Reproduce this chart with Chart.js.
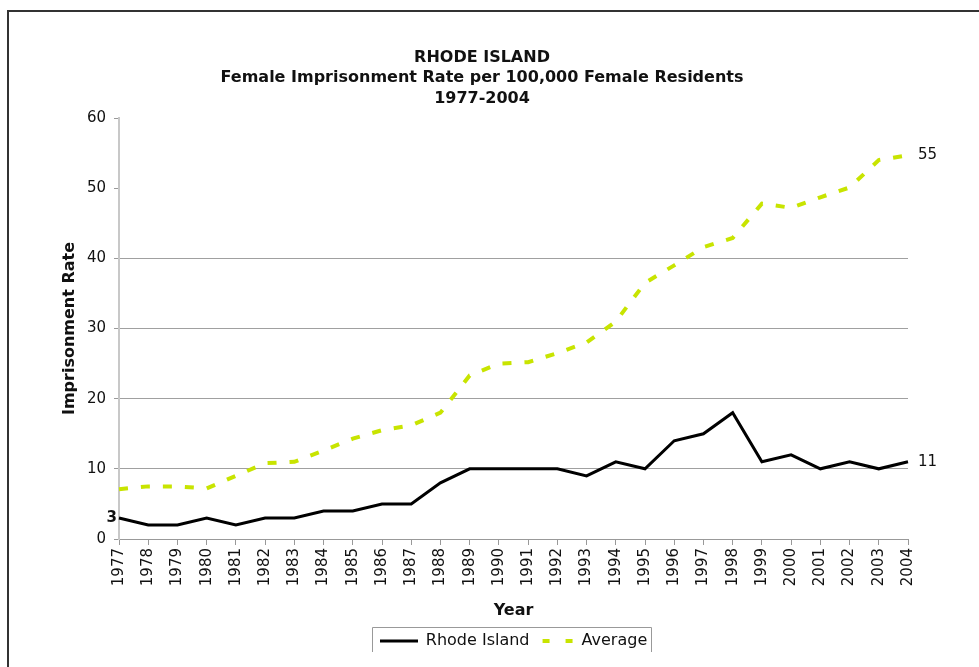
<!DOCTYPE html>
<html>
<head>
<meta charset="utf-8">
<script src="https://cdn.jsdelivr.net/npm/chart.js@4.4.1/dist/chart.umd.min.js"></script>
<style>
  html, body { margin: 0; padding: 0; background: #fff; overflow: hidden; }
  #frame { position: absolute; left: 7px; top: 10px; width: 1100px; height: 800px; border: 2px solid #333; }
  #wrap { position: absolute; left: 0; top: 0; width: 979px; height: 667px; }
</style>
</head>
<body>
<div id="frame"></div>
<div id="wrap"><canvas id="chart"></canvas></div>
<script>
// values
const years = ['1977','1978','1979','1980','1981','1982','1983','1984','1985','1986','1987','1988','1989','1990',
  '1991','1992','1993','1994','1995','1996','1997','1998','1999','2000','2001','2002','2003','2004'];
const rhodeIsland = [3,2,2,3,2,3,3,4,4,5,5,8,10,10,10,10,9,11,10,14,15,18,11,12,10,11,10,11];
const average = [7.1,7.5,7.5,7.2,9.0,10.8,11.0,12.6,14.3,15.5,16.2,18.0,23.3,25.0,25.2,26.5,28.0,31.0,
  36.5,39.0,41.6,42.9,47.8,47.2,48.7,50.1,54.0,54.7];
const yTicks = [0,10,20,30,40,50,60];
const titleLines = ['RHODE ISLAND', 'Female Imprisonment Rate per 100,000 Female Residents', '1977-2004'];

const GREEN = '#c8e400';
const SAMPLE_W = 38;
Chart.defaults.font.family = '"DejaVu Sans", Verdana, sans-serif';
Chart.defaults.color = '#111';

// little legend samples: the built-in 'line' point style ignores dashes
function sample(color, width, dash) {
  const c = document.createElement('canvas');
  c.width = SAMPLE_W; c.height = 6;
  const g = c.getContext('2d');
  g.strokeStyle = color;
  g.lineWidth = width;
  g.setLineDash(dash);
  g.beginPath(); g.moveTo(0, 3); g.lineTo(SAMPLE_W, 3); g.stroke();
  return c;
}
const riSample = sample('#000', 3, []);
const avSample = sample(GREEN, 4, [0, 7, 7, 16, 7, 100]);

// end-point value labels like the original ("3", "11", "55")
const endLabels = {
  id: 'endLabels',
  afterDatasetsDraw(chart) {
    const ctx = chart.ctx;
    const ri = chart.getDatasetMeta(0).data;
    const av = chart.getDatasetMeta(1).data;
    ctx.save();
    ctx.textBaseline = 'middle';
    ctx.fillStyle = '#111';
    ctx.font = 'bold 15px "DejaVu Sans"';
    ctx.textAlign = 'right';
    ctx.fillText(String(rhodeIsland[0]), ri[0].x - 2, ri[0].y);
    ctx.font = '15px "DejaVu Sans"';
    ctx.textAlign = 'left';
    const last = years.length - 1;
    ctx.fillText(String(rhodeIsland[last]), ri[last].x + 10, ri[last].y);
    ctx.fillText(String(Math.round(average[last])), av[last].x + 10, av[last].y);
    ctx.restore();
  }
};

// open box round the legend (top and sides only, as in the picture)
const legendFrame = {
  id: 'legendFrame',
  afterDraw(chart) {
    const boxes = chart.legend.legendHitBoxes;
    if (!boxes || !boxes.length) return;
    const lastBox = boxes[boxes.length - 1];
    const l = Math.round(boxes[0].left - 8), r = Math.round(lastBox.left + lastBox.width + 4);
    const t = Math.round(boxes[0].top - 6), b = Math.round(boxes[0].top + boxes[0].height + 3);
    const ctx = chart.ctx;
    ctx.save();
    ctx.strokeStyle = '#999';
    ctx.lineWidth = 1;
    ctx.beginPath();
    ctx.moveTo(l + 0.5, b); ctx.lineTo(l + 0.5, t + 0.5); ctx.lineTo(r + 0.5, t + 0.5); ctx.lineTo(r + 0.5, b);
    ctx.stroke();
    ctx.restore();
  }
};

new Chart(document.getElementById('chart'), {
  type: 'line',
  data: {
    labels: years,
    datasets: [
      {
        label: 'Rhode Island',
        data: rhodeIsland,
        borderColor: '#000',
        backgroundColor: '#000',
        borderWidth: 3,
        pointRadius: 0,
        pointStyle: riSample,
        tension: 0
      },
      {
        label: 'Average',
        data: average,
        borderColor: GREEN,
        backgroundColor: GREEN,
        borderWidth: 4,
        borderDash: [9, 13],
        pointRadius: 0,
        pointStyle: avSample,
        tension: 0
      }
    ]
  },
  options: {
    responsive: true,
    maintainAspectRatio: false,
    animation: false,
    layout: { padding: { left: 56, right: 71, top: 0, bottom: 8 } },
    plugins: {
      title: {
        display: true,
        text: titleLines,
        color: '#111',
        font: { size: 16, weight: 'bold', lineHeight: 1.3 },
        padding: { top: 47, bottom: 8.6 }
      },
      legend: {
        position: 'bottom',
        fullSize: false,
        labels: {
          color: '#111',
          font: { size: 16 },
          usePointStyle: true,
          pointStyleWidth: SAMPLE_W,
          padding: 6
        }
      },
      tooltip: { enabled: false }
    },
    scales: {
      x: {
        offset: false,
        border: { color: '#999', width: 1 },
        grid: { drawOnChartArea: false, drawTicks: true, tickLength: 6, tickColor: '#999' },
        ticks: { font: { size: 15 }, color: '#111', minRotation: 90, maxRotation: 90, autoSkip: false, padding: 3 },
        title: { display: true, text: 'Year', color: '#111', font: { size: 16, weight: 'bold' }, padding: { top: 4, bottom: 7 } },
        afterFit: (s) => { s.height = 88; }
      },
      y: {
        min: 0,
        max: 60,
        afterBuildTicks: (s) => { s.ticks = yTicks.map(v => ({ value: v })); },
        border: { color: '#c8c8c8', width: 2 },
        grid: {
          color: (c) => (c.tick && c.tick.value > 0 && c.tick.value <= 40) ? '#a0a0a0' : 'rgba(0,0,0,0)',
          tickColor: '#999',
          tickLength: 5
        },
        ticks: { font: { size: 15 }, color: '#111', padding: 8 },
        title: { display: true, text: 'Imprisonment Rate', color: '#111', font: { size: 16, weight: 'bold' }, padding: { top: 4 } },
        afterFit: (s) => { s.width = 63; }
      }
    }
  },
  plugins: [endLabels, legendFrame]
});
</script>
</body>
</html>
